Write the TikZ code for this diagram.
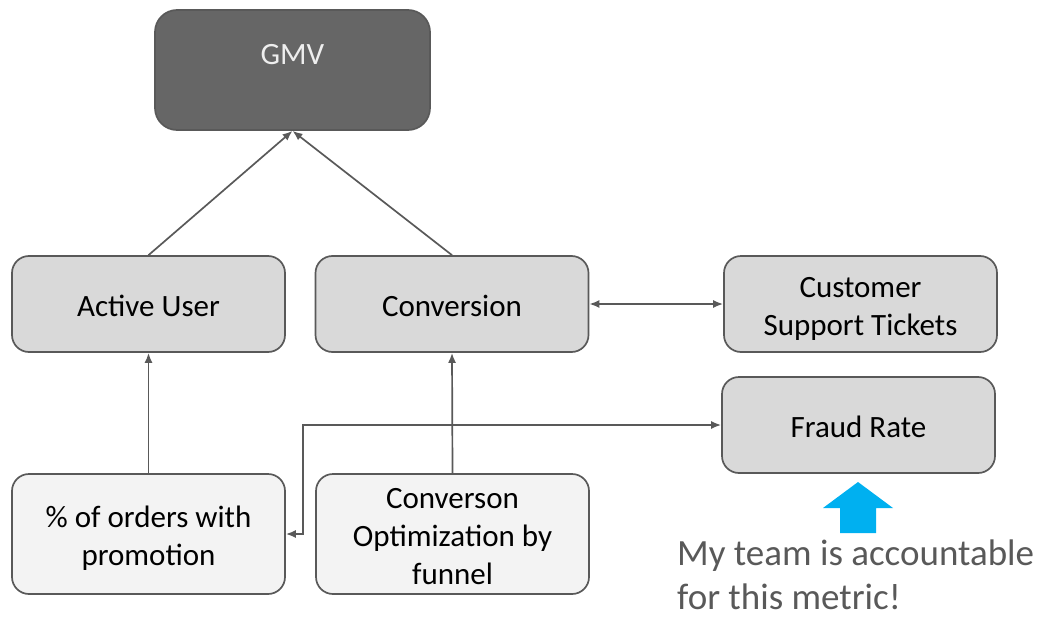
\documentclass[tikz,border=0pt]{standalone}
\usepackage{fontspec}
\setmainfont{Carlito}
\usetikzlibrary{arrows.meta}
\definecolor{edge}{HTML}{595959}
\definecolor{midfill}{HTML}{D9D9D9}
\definecolor{lowfill}{HTML}{F3F3F3}
\definecolor{topfill}{HTML}{666666}
\definecolor{gmvtext}{HTML}{EEEEEE}
\definecolor{bluearrow}{HTML}{00B0F0}
\definecolor{notetext}{HTML}{595959}
\newcommand\topstrut{\rule{0pt}{30pt}}
\newcommand\botstrut{\rule[-6pt]{0pt}{0pt}}
\tikzset{
  box/.style={draw=edge, line width=1.7pt, rounded corners=17pt, minimum width=273pt,
    minimum height=96pt, align=center, inner sep=0pt,
    font=\fontsize{31}{38}\selectfont, text=black},
  midbox/.style={box, fill=midfill},
  lowbox/.style={box, fill=lowfill, minimum height=120pt},
  topbox/.style={box, fill=topfill, rounded corners=22pt, minimum width=275pt,
    minimum height=120pt, text=gmvtext, text height=54pt, text depth=66pt},
  conn/.style={draw=edge, line width=1.7pt,
    arrows={-Latex[length=10pt,width=8pt]}},
  biconn/.style={conn, arrows={Latex[length=10pt,width=8pt]-Latex[length=10pt,width=8pt]}},
  note/.style={text=notetext, font=\fontsize{37}{44}\selectfont, align=left, inner sep=0pt}
}
\begin{document}
\begin{tikzpicture}[x=1pt,y=-1pt]
\useasboundingbox (0,0) rectangle (1041,618);
\node[topbox] (gmv) at (292.5,70) {GMV};
\node[midbox] (au) at (148.5,304) {\topstrut Active User\botstrut};
\node[midbox] (conv) at (452,304) {\topstrut Conversion\botstrut};
\node[midbox] (cst) at (860.5,304) {\topstrut Customer\\Support Tickets\botstrut};
\node[midbox] (fraud) at (858.5,425) {\topstrut Fraud Rate\botstrut};
\node[lowbox] (promo) at (148.5,534) {\topstrut\% of orders with\\promotion\botstrut};
\node[lowbox] (opt) at (452.5,534) {\topstrut Converson\\Optimization by\\funnel\botstrut};
\draw[conn] (au.north) -- (gmv.south);
\draw[conn] (conv.north) -- (gmv.south);
\draw[biconn] (conv.east) -- (cst.west);
\draw[conn] (promo.north) -- (au.south);
\draw[conn] (opt.north) -- (conv.south);
\draw[biconn] (promo.east) -- ++(17,0) |- (fraud.west);
\fill[bluearrow] (840,533) -- (840,508) -- (823,508) -- (858,482) -- (893,508) -- (876,508) -- (876,533) -- cycle;
\node[note, anchor=north west] (msg) at (677,540) {My team is accountable\\for this metric!};
\end{tikzpicture}
\end{document}
